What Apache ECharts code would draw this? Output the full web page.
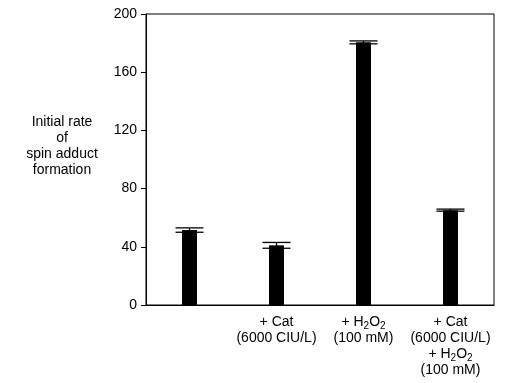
<!DOCTYPE html>
<html><head><meta charset="utf-8">
<script src="https://cdn.jsdelivr.net/npm/echarts@6/dist/echarts.min.js"></script>
<style>html,body{margin:0;padding:0;background:#fff}#c{width:512px;height:383px}</style>
</head><body><div id="c"></div>
<script>
var categories = ['', '+ Cat\n(6000 CIU/L)', '+ H{sub|2}O{sub|2}\n(100 mM)', '+ Cat\n(6000 CIU/L)\n+ H{sub|2}O{sub|2}\n(100 mM)'];
var rates = [51.5, 41, 180.5, 65.2];
var errors = [1.5, 2, 1, 0.7];
var yTicks = [0, 40, 80, 120, 160, 200];
var yName = 'Initial rate\nof\nspin adduct\nformation';

var font = 'Liberation Sans, Arial, Helvetica, sans-serif';
var chart = echarts.init(document.getElementById('c'));
var errData = rates.map(function (v, i) { return [i, v - errors[i], v + errors[i]]; });

chart.setOption({
  animation: false,
  grid: { left: 146, right: 18, top: 14, bottom: 78, show: true, borderColor: '#000', borderWidth: 1, backgroundColor: 'transparent' },
  xAxis: {
    type: 'category', data: categories,
    axisLine: { lineStyle: { color: '#000', width: 1 } },
    axisTick: { show: false },
    axisLabel: {
      interval: 0, margin: 9, color: '#000', fontFamily: font, fontSize: 14, lineHeight: 16, verticalAlign: 'top',
      rich: { sub: { fontSize: 10, fontFamily: font, color: '#000', lineHeight: 12, verticalAlign: 'top', padding: [7, 0, 0, 0] } }
    }
  },
  yAxis: {
    type: 'value', min: yTicks[0], max: yTicks[yTicks.length - 1], interval: 40,
    axisLine: { show: true, lineStyle: { color: '#000', width: 1 } },
    axisTick: { show: true, length: 5, lineStyle: { color: '#000' } },
    axisLabel: { color: '#000', fontFamily: font, fontSize: 14, margin: 9 },
    splitLine: { show: false }
  },
  graphic: [{
    type: 'text', x: 62, y: 114,
    style: { text: yName, fill: '#000', font: '14px ' + font, textAlign: 'center', align: 'center', lineHeight: 16 }
  }],
  series: [
    { type: 'bar', data: rates, barWidth: 15, itemStyle: { color: '#000' } },
    {
      type: 'custom', data: errData, z: 5,
      renderItem: function (params, api) {
        var x = api.value(0);
        var lo = api.coord([x, api.value(1)]);
        var hi = api.coord([x, api.value(2)]);
        var hw = 14;
        var st = { stroke: '#000', lineWidth: 1.3 };
        return { type: 'group', children: [
          { type: 'line', shape: { x1: lo[0], y1: lo[1], x2: hi[0], y2: hi[1] }, style: st },
          { type: 'line', shape: { x1: hi[0] - hw, y1: hi[1], x2: hi[0] + hw, y2: hi[1] }, style: st },
          { type: 'line', shape: { x1: lo[0] - hw, y1: lo[1], x2: lo[0] + hw, y2: lo[1] }, style: st }
        ]};
      }
    }
  ]
});
</script></body></html>
